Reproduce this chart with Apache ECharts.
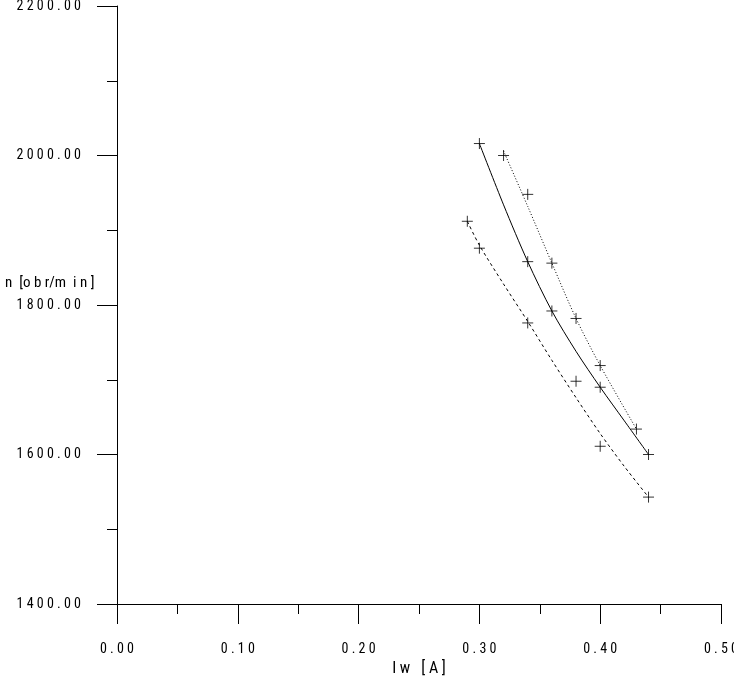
<!DOCTYPE html>
<html>
<head>
<meta charset="utf-8">
<script src="https://cdn.jsdelivr.net/npm/echarts@6/dist/echarts.min.js"></script>
<style>
html,body{margin:0;padding:0;background:#fff;}
#chart{width:734px;height:686px;}
</style>
</head>
<body>
<div id="chart"></div>
<script>
// Measured markers (+)
const solidMarks  = [[0.30,2016],[0.34,1858],[0.36,1792],[0.40,1690],[0.44,1600]];
const dottedMarks = [[0.32,2000],[0.34,1948],[0.36,1856],[0.38,1782],[0.40,1719],[0.43,1634]];
const dashedMarks = [[0.29,1912],[0.30,1876],[0.34,1776],[0.38,1698],[0.40,1611],[0.44,1543]];

// Fitted curves
const solidCurve  = [[0.30,2016],[0.32,1934],[0.34,1858],[0.36,1792],[0.38,1738],[0.40,1690],[0.42,1645],[0.44,1600]];
const dottedCurve = [[0.32,2006],[0.34,1932],[0.36,1856],[0.38,1782],[0.40,1719],[0.43,1634]];
const dashedCurve = [[0.29,1912],[0.30,1880],[0.32,1828],[0.34,1778],[0.36,1726],[0.38,1676],[0.40,1628],[0.42,1584],[0.44,1543]];

const xName = 'I w   [ A ]';
const yName = 'n  [o b r/m  i n ]';

const FONT = "'Roboto Condensed', 'DejaVu Sans Condensed', sans-serif";
function spaced(s){ return s.split('').join(' '); }

const plusPath = 'path://M0,5L10,5M5,0L5,10';
function marks(data){
  return {type:'scatter', data:data, symbol:plusPath, symbolSize:11,
    itemStyle:{color:'transparent', borderColor:'#000', borderWidth:1}, silent:true, z:3};
}
function curve(data, type){
  return {type:'line', data:data, smooth:0.3, showSymbol:false, symbol:'none',
    lineStyle:{color:'#000', width:1, type:type}, silent:true, z:2};
}

const chart = echarts.init(document.getElementById('chart'), null, {renderer:'canvas'});
chart.setOption({
  animation:false,
  backgroundColor:'#fff',
  title:{text: yName, left:0, top:271,
    textStyle:{fontFamily:FONT, fontSize:15, fontWeight:'normal', color:'#000'}},
  grid:{left:117, right:13, top:6, bottom:82, containLabel:false, outerBoundsMode:'none'},
  xAxis:{type:'value', min:0, max:0.5, interval:0.1,
    name: xName, nameLocation:'middle', nameGap:57,
    nameTextStyle:{fontFamily:FONT, fontSize:16, color:'#000'},
    axisLine:{show:true, onZero:false, lineStyle:{color:'#000', width:1}},
    axisTick:{show:true, length:20, lineStyle:{color:'#000', width:1}},
    minorTick:{show:true, splitNumber:2, length:10, lineStyle:{color:'#000', width:1}},
    splitLine:{show:false},
    axisLabel:{fontFamily:FONT, fontSize:14, color:'#000', margin:38,
      formatter:function(v){return spaced(v.toFixed(2));}}},
  yAxis:{type:'value', min:1400, max:2200, interval:200,
    axisLine:{show:true, onZero:false, lineStyle:{color:'#000', width:1}},
    axisTick:{show:true, length:20, lineStyle:{color:'#000', width:1}},
    minorTick:{show:true, splitNumber:2, length:10, lineStyle:{color:'#000', width:1}},
    splitLine:{show:false},
    axisLabel:{fontFamily:FONT, fontSize:14, color:'#000', margin:36,
      formatter:function(v){return spaced(v.toFixed(2));}}},
  series:[curve(solidCurve,'solid'), curve(dottedCurve,[1,2]), curve(dashedCurve,[3,3]),
    marks(solidMarks), marks(dottedMarks), marks(dashedMarks)]
});
</script>
</body>
</html>
